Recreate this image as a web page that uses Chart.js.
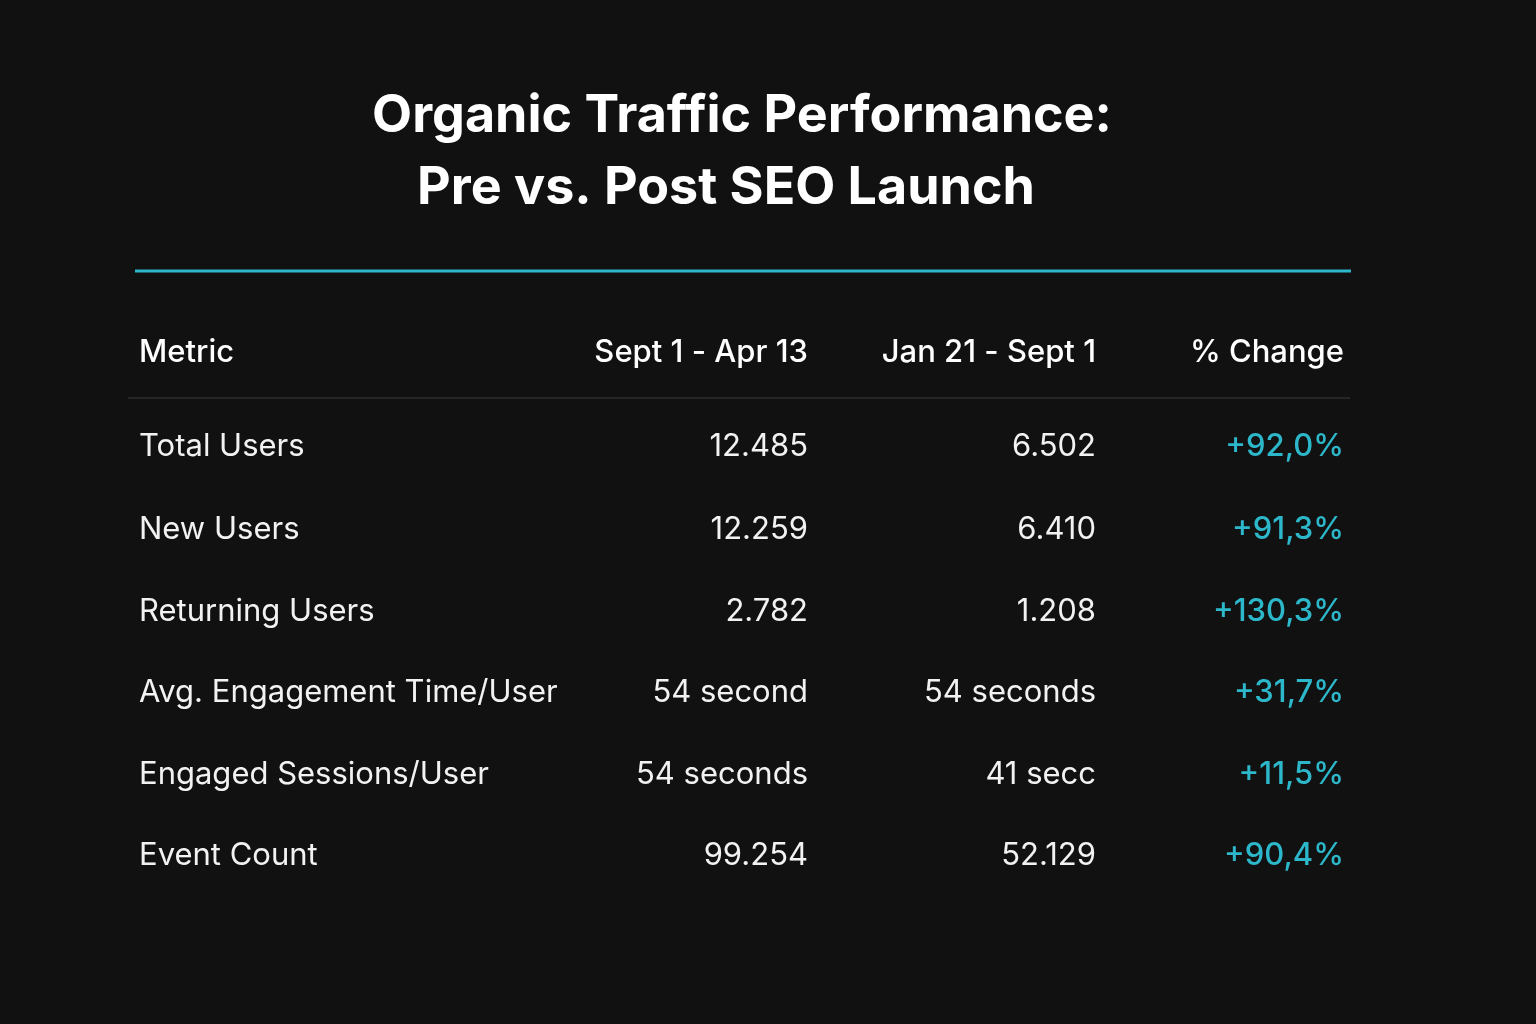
<!DOCTYPE html>
<html>
<head>
<meta charset="utf-8">
<script src="https://cdn.jsdelivr.net/npm/chart.js@4"></script>
<style>
  body { margin: 0; background: #111111; }
  canvas { display: block; }
</style>
</head>
<body>
<canvas id="myChart" width="1536" height="1024"></canvas>
<script>
const titleLines = ['Organic Traffic Performance:', 'Pre vs. Post SEO Launch'];
const headers = ['Metric', 'Sept 1 - Apr 13', 'Jan 21 - Sept 1', '% Change'];
const metrics = ['Total Users', 'New Users', 'Returning Users', 'Avg. Engagement Time/User', 'Engaged Sessions/User', 'Event Count'];
const periodA = ['12.485', '12.259', '2.782', '54 second', '54 seconds', '99.254'];
const periodB = ['6.502', '6.410', '1.208', '54 seconds', '41 secc', '52.129'];
const changes = ['+92,0%', '+91,3%', '+130,3%', '+31,7%', '+11,5%', '+90,4%'];

const ctx = document.getElementById('myChart').getContext('2d');
const FONT = "Inter, 'Noto Sans', sans-serif";
const CYAN = '#2db7ca';

// column anchors (x) and row centres (y), in scale units
const colX = [139, 808, 1096, 1344];
const colAlign = ['left', 'right', 'right', 'right'];
const rowY = [447, 530, 612, 693, 775, 856];

// table drawing block
const tableText = {
    id: 'tableText',
    afterDraw: chart => {
        const c = chart.ctx;
        const sx = chart.scales.x, sy = chart.scales.y;
        c.save();
        c.textBaseline = 'middle';

        // title
        c.fillStyle = '#ffffff';
        c.font = 'bold 52px ' + FONT;
        c.textAlign = 'center';
        c.fillText(titleLines[0], sx.getPixelForValue(742), sy.getPixelForValue(116));
        c.fillText(titleLines[1], sx.getPixelForValue(726), sy.getPixelForValue(188));

        // cyan rule
        c.strokeStyle = CYAN;
        c.lineWidth = 3;
        c.beginPath();
        c.moveTo(sx.getPixelForValue(135), sy.getPixelForValue(271));
        c.lineTo(sx.getPixelForValue(1351), sy.getPixelForValue(271));
        c.stroke();

        // header separator
        c.strokeStyle = '#262626';
        c.lineWidth = 2;
        c.beginPath();
        c.moveTo(sx.getPixelForValue(128), sy.getPixelForValue(398));
        c.lineTo(sx.getPixelForValue(1350), sy.getPixelForValue(398));
        c.stroke();

        // headers
        c.font = '500 31px ' + FONT;
        c.fillStyle = '#ffffff';
        headers.forEach((h, i) => {
            c.textAlign = colAlign[i];
            c.fillText(h, sx.getPixelForValue(colX[i]), sy.getPixelForValue(353));
        });

        // rows
        const cols = [metrics, periodA, periodB, changes];
        c.font = '400 31px ' + FONT;
        rowY.forEach((y, r) => {
            cols.forEach((col, i) => {
                c.textAlign = colAlign[i];
                c.fillStyle = i === 3 ? CYAN : '#f2f2f2';
                if (i === 3) c.font = '500 31px ' + FONT; else c.font = '400 31px ' + FONT;
                c.fillText(col[r], sx.getPixelForValue(colX[i]), sy.getPixelForValue(y));
            });
        });
        c.restore();
    }
};

const bg = {
    id: 'bg',
    beforeDraw: chart => {
        const c = chart.ctx;
        c.save();
        c.fillStyle = '#111111';
        c.fillRect(0, 0, chart.width, chart.height);
        c.restore();
    }
};

const config = {
    type: 'scatter',
    data: { datasets: [{ data: [] }] },
    options: {
        responsive: false,
        animation: false,
        layout: { padding: 0 },
        scales: {
            x: { type: 'linear', min: 0, max: 1536, display: false },
            y: { type: 'linear', min: 0, max: 1024, reverse: true, display: false }
        },
        plugins: { legend: { display: false }, tooltip: { enabled: false } }
    },
    plugins: [bg, tableText]
};

const myChart = new Chart(ctx, config);
</script>
</body>
</html>
